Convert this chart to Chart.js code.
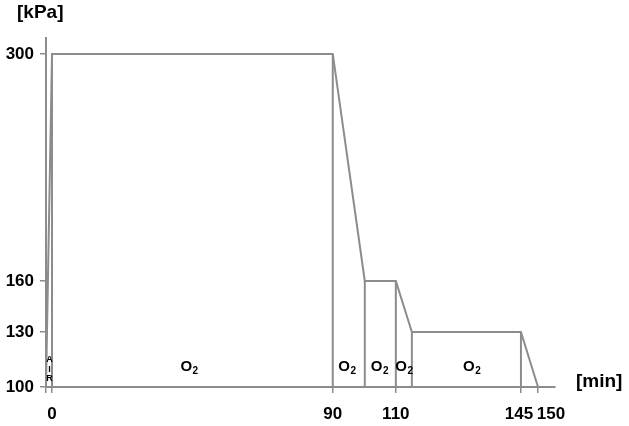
<!DOCTYPE html>
<html><head><meta charset="utf-8">
<script src="https://cdn.jsdelivr.net/npm/chart.js@4"></script>
<style>html,body{margin:0;padding:0;background:#fff}canvas{display:block}</style>
</head><body>
<canvas id="c" width="629" height="426"></canvas>
<script>
// ---- data ----
const profileTimes     = [-2, 0, 90, 100, 110, 115, 145, 150];
const profilePressures = [100, 300, 300, 160, 160, 130, 130, 100];
const separatorTimes   = [0, 90, 100, 110, 115, 145];
const separatorTops    = [300, 300, 160, 160, 130, 130];
const xTickValues = [-2, 0, 90, 110, 145, 150];
const xTickLabels = ['', '0', '90', '110', '145', '150'];
const yTickValues = [100, 130, 160, 300];
const yTickLabels = ['100', '130', '160', '300'];
const gasName = 'O', gasSub = '2';
const gasLabelTimes = [44, 94.5, 104.8, 112.6, 131.5];
const gasLabelValue = 108.5;
const airLetters = ['A', 'I', 'R'];
const airTime = -0.85;
const airLetterValues = [114.9, 109.6, 104.5];
const xUnit = '[min]', yUnit = '[kPa]';

// ---- schematic (piecewise) axis layout ----
const BREAKS = {
  x: [[-2, 0], [0, 0.0118], [90, 0.5634], [100, 0.6263], [110, 0.6873], [115, 0.7188], [145, 0.9331], [150, 0.9666], [155, 1]],
  y: [[100, 0], [130, 0.1576], [160, 0.3037], [300, 0.9542], [310, 1]]
};
const LABEL_SHIFT = { x: { '145': -2, '150': 13 } };
const GRAY = '#8c8c8c';
const FONT = "'Liberation Sans', Arial, sans-serif";

function interp(b, v, a, c) {
  let i = 0;
  while (i < b.length - 2 && v > b[i + 1][a]) i++;
  const p = b[i], q = b[i + 1];
  return p[c] + (v - p[a]) * (q[c] - p[c]) / (q[a] - p[a]);
}

class PiecewiseScale extends Chart.LinearScale {
  static id = 'piecewise';
  static defaults = Chart.LinearScale.defaults;
  getPixelForValue(value) {
    if (value === null || value === undefined || isNaN(value)) return NaN;
    return this.getPixelForDecimal(interp(BREAKS[this.id], value, 0, 1));
  }
  getValueForPixel(pixel) {
    return interp(BREAKS[this.id], this.getDecimalForPixel(pixel), 1, 0);
  }
  _computeLabelItems(chartArea) {
    const items = super._computeLabelItems(chartArea);
    const sh = LABEL_SHIFT[this.id] || {};
    items.forEach(it => { const s = sh[it.label]; if (s) it.options.translation[0] += s; });
    return items;
  }
}
Chart.register(PiecewiseScale);

const datasets = [];
separatorTimes.forEach((t, i) => {
  datasets.push({ data: [{ x: t, y: 100 }, { x: t, y: separatorTops[i] }],
    borderColor: GRAY, borderWidth: 2, showLine: true, pointRadius: 0, tension: 0, clip: false });
});
datasets.push({ data: profileTimes.map((t, i) => ({ x: t, y: profilePressures[i] })),
  borderColor: GRAY, borderWidth: 2, showLine: true, pointRadius: 0, tension: 0, clip: false });

const annot = {
  id: 'annot',
  afterDatasetsDraw(chart) {
    const { ctx, scales: { x, y } } = chart;
    ctx.save();
    ctx.fillStyle = '#000';
    ctx.textAlign = 'left';
    ctx.textBaseline = 'alphabetic';
    gasLabelTimes.forEach(t => {
      const cx = x.getPixelForValue(t), by = y.getPixelForValue(gasLabelValue);
      ctx.font = 'bold 15px ' + FONT; const wO = ctx.measureText(gasName).width;
      ctx.font = 'bold 10px ' + FONT; const w2 = ctx.measureText(gasSub).width;
      const left = cx - (wO + w2 + 0.5) / 2;
      ctx.font = 'bold 15px ' + FONT; ctx.fillText(gasName, left, by);
      ctx.font = 'bold 10px ' + FONT; ctx.fillText(gasSub, left + wO + 0.5, by + 3);
    });
    ctx.font = 'bold 9px ' + FONT;
    ctx.textAlign = 'center';
    ctx.textBaseline = 'middle';
    airLetters.forEach((l, i) => {
      ctx.fillText(l, x.getPixelForValue(airTime), y.getPixelForValue(airLetterValues[i]));
    });
    ctx.font = 'bold 19px ' + FONT;
    ctx.textAlign = 'left';
    ctx.textBaseline = 'alphabetic';
    ctx.fillText(yUnit, 17, 18);
    ctx.fillText(xUnit, 576, 387);
    ctx.restore();
  }
};

new Chart(document.getElementById('c'), {
  type: 'scatter',
  data: { datasets },
  plugins: [annot],
  options: {
    responsive: false, animation: false, devicePixelRatio: 1,
    layout: { padding: { top: 38, right: 74, left: 0, bottom: 0 } },
    plugins: { legend: { display: false }, tooltip: { enabled: false } },
    scales: {
      x: {
        type: 'piecewise', min: -2, max: 155,
        afterBuildTicks: s => { s.ticks = xTickValues.map(v => ({ value: v })); },
        afterFit: s => { s.height = 39; },
        grid: { drawOnChartArea: false, drawTicks: true, tickLength: 6, color: GRAY, lineWidth: 1.5 },
        border: { display: true, color: GRAY, width: 2 },
        ticks: { autoSkip: false, maxRotation: 0, minRotation: 0, padding: 11, color: '#000',
          font: { family: FONT, size: 17, weight: 'bold' },
          callback: v => { const i = xTickValues.indexOf(v); return i >= 0 ? xTickLabels[i] : ''; } }
      },
      y: {
        type: 'piecewise', min: 100, max: 310,
        afterBuildTicks: s => { s.ticks = yTickValues.map(v => ({ value: v })); },
        afterFit: s => { s.width = 46; },
        grid: { drawOnChartArea: false, drawTicks: true, tickLength: 6, color: GRAY, lineWidth: 1.5 },
        border: { display: true, color: GRAY, width: 2 },
        ticks: { autoSkip: false, padding: 6, color: '#000',
          font: { family: FONT, size: 17, weight: 'bold' },
          callback: v => { const i = yTickValues.indexOf(v); return i >= 0 ? yTickLabels[i] : ''; } }
      }
    }
  }
});
</script>
</body></html>
